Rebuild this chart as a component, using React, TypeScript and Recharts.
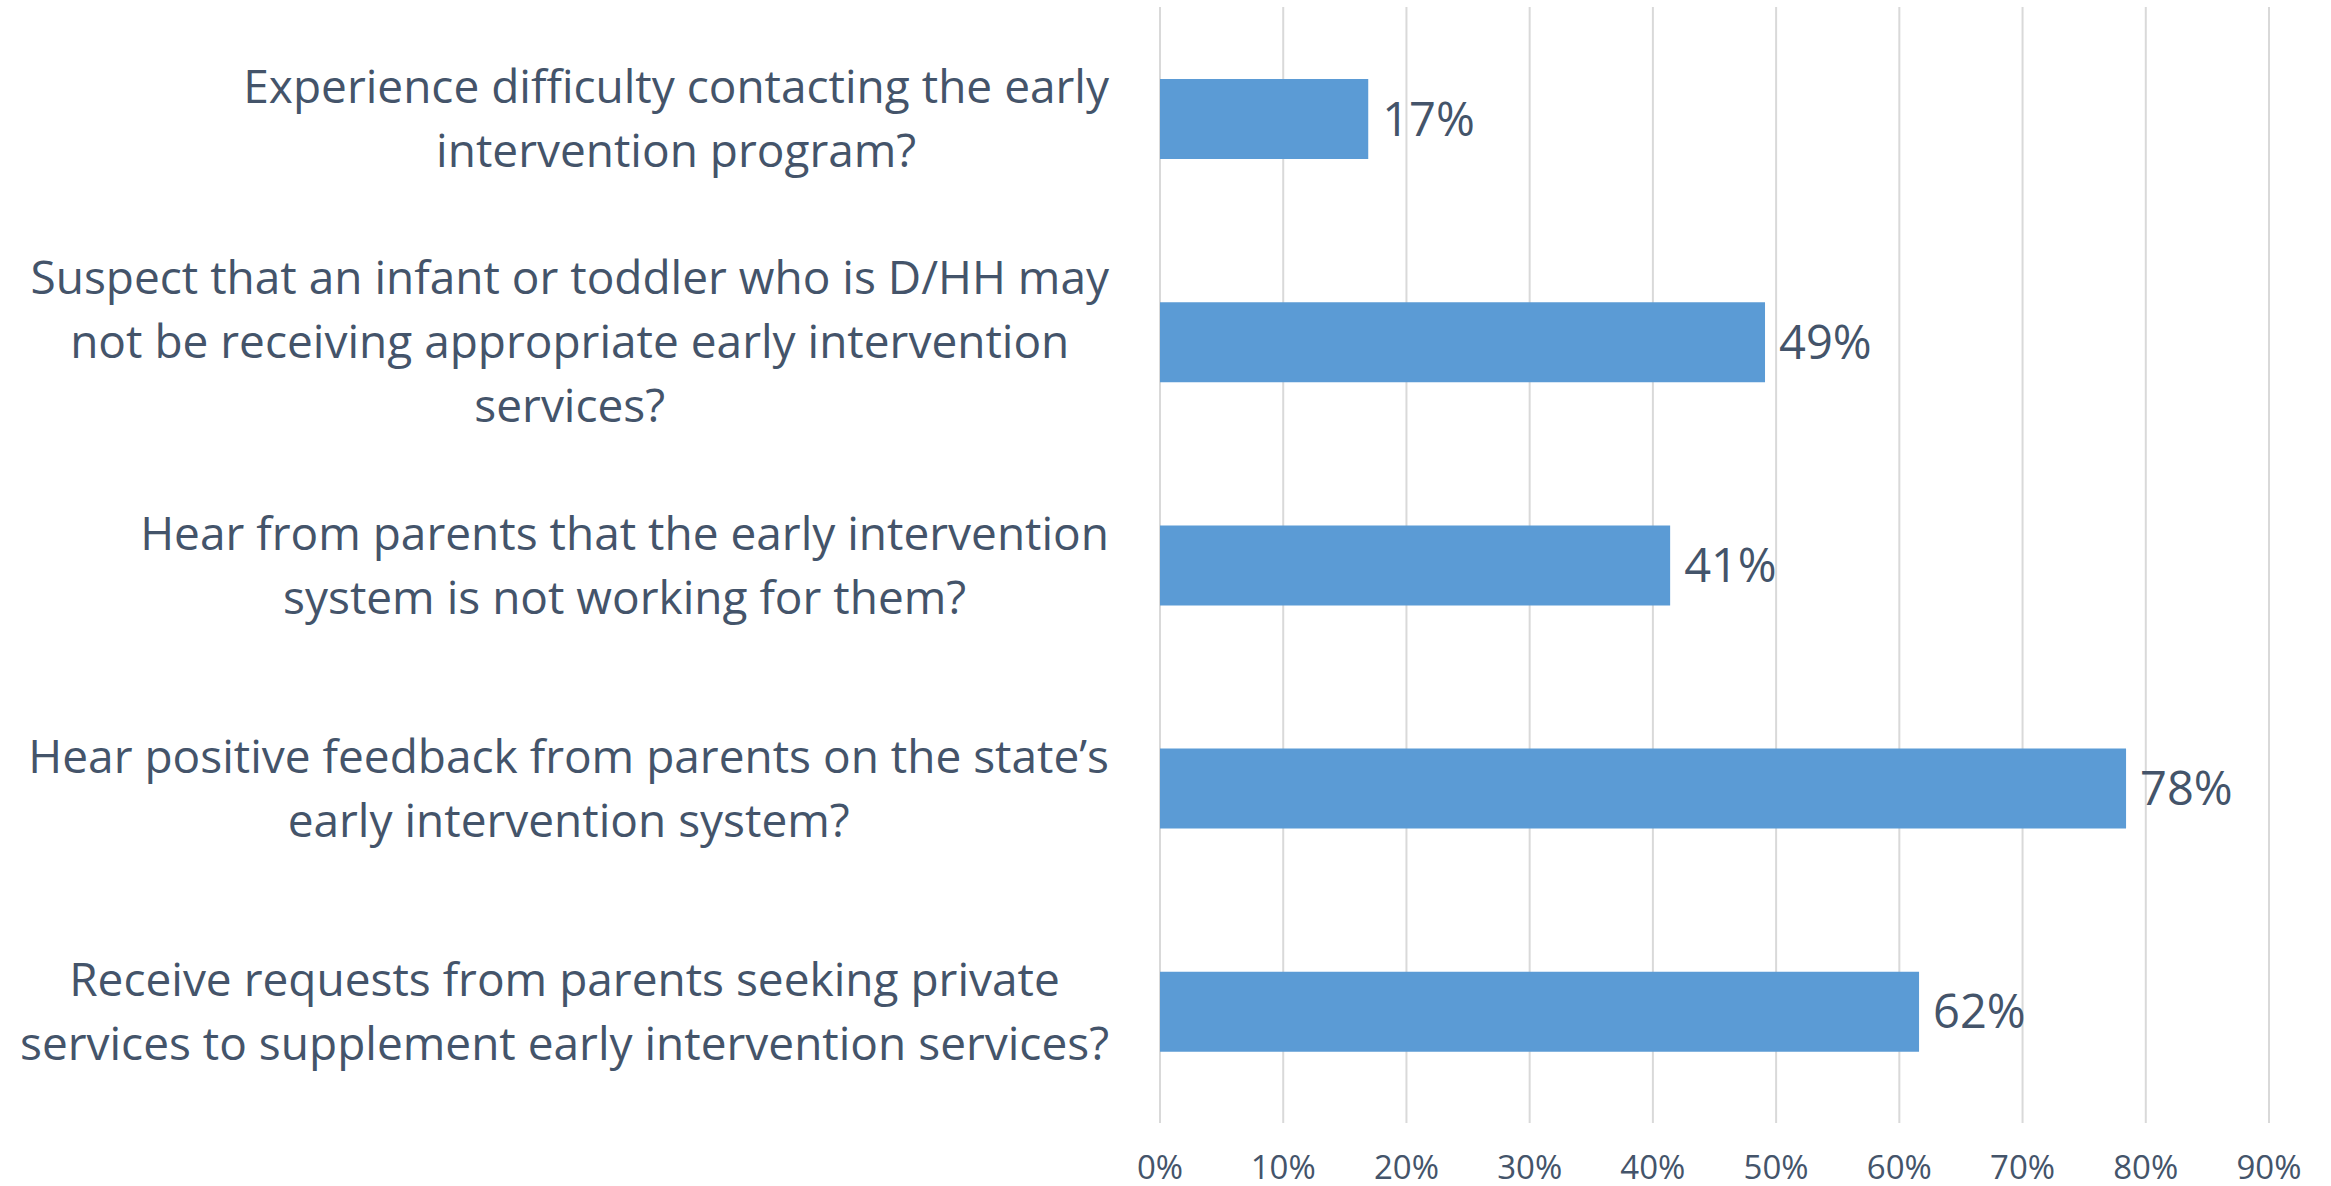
import React from 'react';
import { BarChart, Bar, XAxis, YAxis, CartesianGrid, LabelList } from 'recharts';

// survey questions, line breaks as wrapped in the original
const questions = [
  'Experience difficulty contacting the early\nintervention program?',
  'Suspect that an infant or toddler who is D/HH may\nnot be receiving appropriate early intervention\nservices?',
  'Hear from parents that the early intervention\nsystem is not working for them?',
  'Hear positive feedback from parents on the state\u2019s\nearly intervention system?',
  'Receive requests from parents seeking private\nservices to supplement early intervention services?',
];
const shares = [16.9, 49.1, 41.4, 78.4, 61.6];
const pctTicks = [0, 10, 20, 30, 40, 50, 60, 70, 80, 90];

const data = questions.map((q, i) => ({ label: q, value: shares[i] }));

const TEXT = '#44546a';
const FONT = '"Open Sans", sans-serif';
const LABEL_SIZE = 46;
const LINE_H = 64;
const LABEL_RIGHT = 1109;

let ctx: CanvasRenderingContext2D | null = null;
const textWidth = (s: string) => {
  if (!ctx) ctx = document.createElement('canvas').getContext('2d');
  if (!ctx) return s.length * LABEL_SIZE * 0.5;
  ctx.font = `${LABEL_SIZE}px ${FONT}`;
  return ctx.measureText(s).width;
};

const QuestionTick = (props: any) => {
  const { y, payload } = props;
  const lines: string[] = String(payload.value).split('\n');
  const maxW = Math.max(...lines.map(textWidth));
  const cx = LABEL_RIGHT - maxW / 2;
  const firstY = y - ((lines.length - 1) * LINE_H) / 2 + LABEL_SIZE * 0.36;
  return (
    <text x={cx} y={firstY} textAnchor="middle" fill={TEXT} fontSize={LABEL_SIZE} fontFamily={FONT}>
      {lines.map((l, i) => (
        <tspan key={i} x={cx} y={firstY + i * LINE_H}>{l}</tspan>
      ))}
    </text>
  );
};

const App = () => (
  <div style={{ position: 'absolute', left: 0, top: 0, background: '#fff' }}>
    <BarChart
      width={2331}
      height={1186}
      data={data}
      layout="vertical"
      margin={{ top: 7, right: 62, bottom: 0, left: 0 }}
    >
      <CartesianGrid horizontal={false} stroke="#d9d9d9" strokeWidth={2} />
      <XAxis
        type="number"
        domain={[0, 90]}
        ticks={pctTicks}
        height={63}
        axisLine={false}
        tickLine={false}
        tickSize={0}
        tickMargin={33}
        tickFormatter={(v: number) => `${v}%`}
        tick={{ fill: TEXT, fontSize: 33, fontFamily: FONT }}
      />
      <YAxis
        type="category"
        dataKey="label"
        width={1160}
        axisLine={false}
        tickLine={false}
        tick={<QuestionTick />}
      />
      <Bar dataKey="value" fill="#5b9bd5" barSize={80} isAnimationActive={false}>
        <LabelList
          dataKey="value"
          position="right"
          offset={14}
          fill={TEXT}
          fontSize={47}
          fontFamily={FONT}
          formatter={(v: number) => `${Math.round(v)}%`}
        />
      </Bar>
    </BarChart>
  </div>
);

export default App;
